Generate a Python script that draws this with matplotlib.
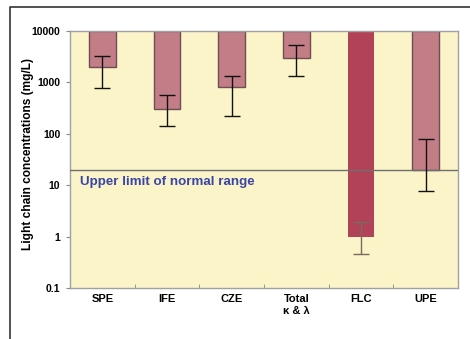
import numpy as np
import matplotlib
matplotlib.use("Agg")
import matplotlib.pyplot as plt
from matplotlib.lines import Line2D

plt.rcParams['font.family'] = ['Liberation Sans', 'DejaVu Sans']

# median light chain level for each assay and the spread around it (mg/L)
methods = ['SPE', 'IFE', 'CZE', 'Total\nκ & λ', 'FLC', 'UPE']
median = [2000, 300, 800, 3000, 1, 20]
err_low = [780, 140, 225, 1330, 0.46, 7.8]
err_high = [3300, 570, 1330, 5400, 1.9, 80]
axis_top = 10000
normal_limit = 20

bar_color = '#C27D87'
flc_color = '#B24257'
edge_color = '#6e4e52'

fig = plt.figure(figsize=(4.70, 3.39), dpi=100)
ax = fig.add_axes([70 / 470, 1 - 288 / 339, 388 / 470, 257 / 339])
ax.set_facecolor('#FAF4C8')

x = np.arange(len(methods))
for i, v in enumerate(median):
    fc = flc_color if methods[i] == 'FLC' else bar_color
    ec = 'none' if methods[i] == 'FLC' else edge_color
    ax.bar(x[i], axis_top - v, bottom=v, width=0.41, color=fc,
           edgecolor=ec, linewidth=1.0, zorder=2)

# asymmetric error bars around each median
for i, v in enumerate(median):
    c = '#7a6a60' if methods[i] == 'FLC' else '#111111'
    ax.errorbar(x[i], v, yerr=[[v - err_low[i]], [err_high[i] - v]],
                fmt='none', ecolor=c, elinewidth=1.0, capsize=5.5,
                capthick=1.0, zorder=4)

ax.axhline(normal_limit, color='#6f6f6f', linewidth=1.0, zorder=3)
ax.text(-0.5 + 0.155, 11.5, 'Upper limit of normal range', color='#3B45A5',
        fontsize=9.6, fontweight='bold', va='center', ha='left', zorder=5)

ax.set_yscale('log')
ax.set_ylim(0.1, axis_top)
ax.set_xlim(-0.5, len(methods) - 0.5)
ax.set_yticks([0.1, 1, 10, 100, 1000, 10000])
ax.set_yticklabels(['0.1', '1', '10', '100', '1000', '10000'],
                   fontsize=7.5, fontweight='bold')
ax.yaxis.set_minor_locator(matplotlib.ticker.NullLocator())
ax.tick_params(axis='y', length=3, width=0.8, color='#888888', pad=4)

ax.set_xticks(x)
ax.set_xticklabels(methods, fontsize=8, fontweight='bold',
                   linespacing=1.35, va='top')
ax.tick_params(axis='x', length=0, pad=4)
ax.set_xticks(x[:-1] + 0.5, minor=True)
ax.tick_params(axis='x', which='minor', length=3, direction='in',
               color='#888888')

ax.set_ylabel('Light chain concentrations (mg/L)', fontsize=8.6,
              fontweight='bold', labelpad=1)
ax.yaxis.set_label_coords(-0.094, 0.52)

for s in ax.spines.values():
    s.set_color('#a0a0a0')
    s.set_linewidth(1.0)

# outer frame (top and left edges only)
fig.add_artist(Line2D([10 / 470, 10 / 470, 1], [0, 1 - 7 / 339, 1 - 7 / 339],
                      transform=fig.transFigure, color='#333333', linewidth=1.2))

fig.savefig('out.png', dpi=100)
